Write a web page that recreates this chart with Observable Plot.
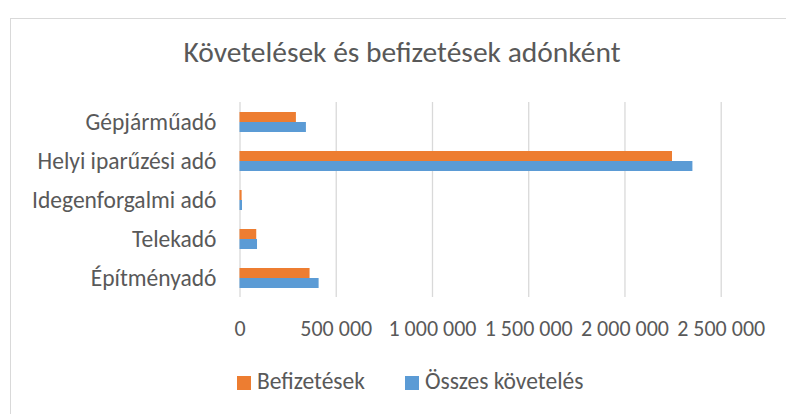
<!DOCTYPE html>
<html>
<head>
<meta charset="utf-8">
<script src="https://cdn.jsdelivr.net/npm/d3@7"></script>
<script src="https://cdn.jsdelivr.net/npm/@observablehq/plot@0.6"></script>
<style>
  html, body { margin: 0; padding: 0; background: #fff; overflow: hidden; }
  #wrap { position: relative; width: 786px; height: 414px; overflow: hidden; font-family: "Carlito", "Lato", sans-serif; color: #595959; }
  #frame { position: absolute; left: 10px; top: 18px; width: 800px; height: 420px; border: 1px solid #d9d9d9; box-sizing: border-box; }
  #title { position: absolute; left: 10px; width: 784px; top: 32px; height: 40px; line-height: 40px; text-align: center; font-size: 29.5px; }
  #chart { position: absolute; left: 0; top: 85px; }
  #legend { position: absolute; left: 0; top: 366px; width: 786px; height: 30px; }
  .item { position: absolute; top: 0; height: 30px; line-height: 30px; font-size: 23.5px; white-space: nowrap; }
  .sw { display: inline-block; width: 14px; height: 14px; margin-right: 6px; vertical-align: -1px; }
</style>
</head>
<body>
<div id="wrap">
  <div id="frame"></div>
  <div id="title">Követelések és befizetések adónként</div>
  <div id="chart"></div>
  <div id="legend"></div>
</div>
<script>
const categories = ["Gépjárműadó", "Helyi iparűzési adó", "Idegenforgalmi adó", "Telekadó", "Építményadó"];
const series = ["Befizetések", "Összes követelés"];
const befizetesek = [293000, 2247000, 11000, 87000, 364000];
const osszesKoveteles = [345000, 2353000, 13000, 91000, 411000];
const xTicks = [0, 500000, 1000000, 1500000, 2000000, 2500000];
const colors = ["#ED7D31", "#5B9BD5"];

const data = [];
categories.forEach((c, i) => {
  data.push({category: c, series: series[0], value: befizetesek[i]});
  data.push({category: c, series: series[1], value: osszesKoveteles[i]});
});

const fmt = d3.formatLocale({decimal: ",", thousands: " ", grouping: [3], currency: ["", ""]}).format(",.0f");

const chart = Plot.plot({
  width: 786,
  height: 265,
  marginLeft: 239.5,
  marginRight: 65.3,
  marginTop: 17,
  marginBottom: 53,
  style: {fontFamily: '"Carlito", "Lato", sans-serif', fontSize: "23.5px", color: "#595959", background: "transparent", overflow: "visible"},
  x: {domain: [0, 2500000], label: null},
  y: {domain: series, axis: null, paddingInner: 0, paddingOuter: 0.9},
  fy: {domain: categories, padding: 0, label: null, axis: null},
  color: {domain: series, range: colors},
  marks: [
    Plot.gridX(xTicks, {stroke: "#d9d9d9", strokeOpacity: 1, strokeWidth: 1.3}),
    Plot.barX(data, {x: "value", y: "series", fy: "category", fill: "series"}),
    Plot.axisFy({anchor: "left", tickSize: 0, tickPadding: 23.5, label: null, fontSize: 23.5}),
    Plot.axisX(xTicks, {anchor: "bottom", tickSize: 0, tickPadding: 23, tickFormat: fmt, label: null, fontSize: 22})
  ]
});
document.getElementById("chart").appendChild(chart);

const legend = document.getElementById("legend");
const lefts = [237, 405];
series.forEach((s, i) => {
  const it = document.createElement("div");
  it.className = "item";
  it.style.left = lefts[i] + "px";
  it.innerHTML = `<span class="sw" style="background:${colors[i]}"></span>${s}`;
  legend.appendChild(it);
});
</script>
</body>
</html>
